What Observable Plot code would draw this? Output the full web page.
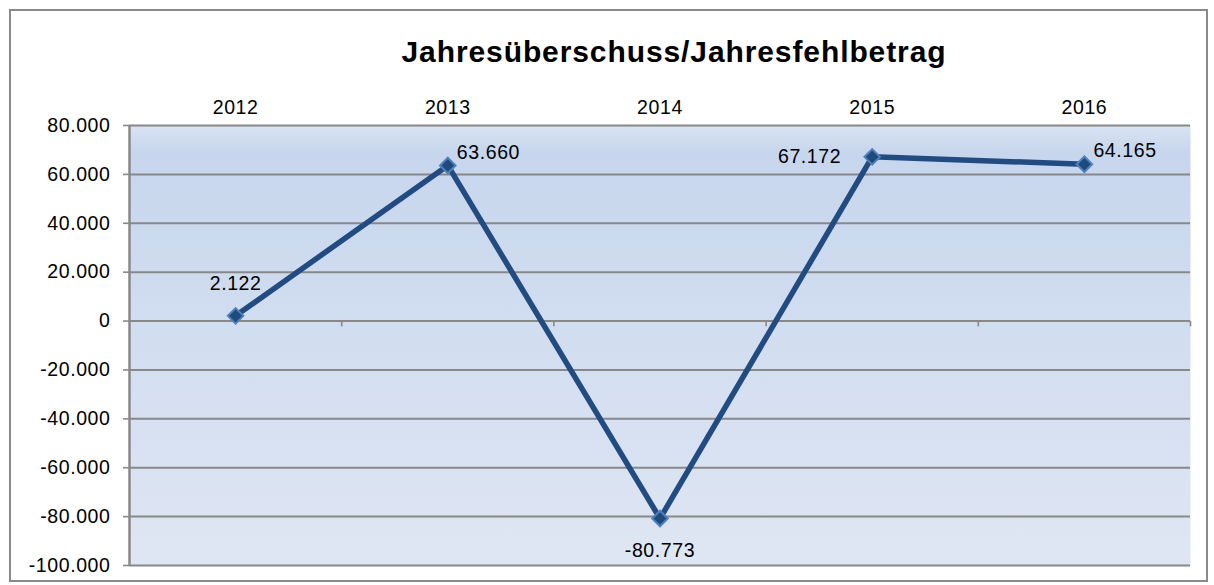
<!DOCTYPE html>
<html>
<head>
<meta charset="utf-8">
<script src="https://cdn.jsdelivr.net/npm/d3@7"></script>
<script src="https://cdn.jsdelivr.net/npm/@observablehq/plot@0.6"></script>
<style>
  html, body { margin: 0; padding: 0; background: #fff; }
  #wrap { position: relative; width: 1214px; height: 585px; overflow: hidden; font-family: "Liberation Sans", Arial, sans-serif; }
  #border { position: absolute; left: 9px; top: 9px; width: 1195px; height: 569px; border: 2px solid #8a8a8a; pointer-events: none; }
  #title { height: 80px; width: 1214px; box-sizing: border-box; padding-left: 134px; padding-top: 35px; text-align: center; font-weight: bold; font-size: 30px; line-height: 34px; letter-spacing: 0.9px; color: #000; }
  svg text { letter-spacing: 0.6px; }
</style>
</head>
<body>
<div id="wrap">
  <div id="title">Jahresüberschuss/Jahresfehlbetrag</div>
  <div id="chart"></div>
  <div id="border"></div>
</div>
<script>
// Data
const years = [2012, 2013, 2014, 2015, 2016];
const values = [2122, 63660, -80773, 67172, 64165];
const labelPos = ["above", "right-up", "below", "left", "right-up"];
const yTicks = [-100000, -80000, -60000, -40000, -20000, 0, 20000, 40000, 60000, 80000];

const data = years.map((y, i) => ({year: y, value: values[i], pos: labelPos[i]}));
const xDomain = [years[0] - 0.5, years[years.length - 1] + 0.5];
const boundaries = years.map(y => y + 0.5);

const de = d3.formatLocale({decimal: ",", thousands: ".", grouping: [3], currency: ["", " €"], minus: "-"});
const fmt = de.format(",");

const tickSymbol = {draw(ctx, size) { const l = Math.sqrt(size); ctx.moveTo(0, 0); ctx.lineTo(0, l); }};

const lineColor = "#224b82";
const fs = 19.5;

const labelStyle = {fill: "#000", fontSize: fs, text: d => fmt(d.value), x: "year", y: "value"};

const chart = Plot.plot({
  width: 1214,
  height: 505,
  marginTop: 45,
  marginBottom: 20,
  marginLeft: 129,
  marginRight: 24,
  style: {fontFamily: "'Liberation Sans', Arial, sans-serif", fontSize: fs + "px", background: "transparent", color: "#000"},
  x: {type: "linear", domain: xDomain, axis: null},
  y: {domain: [yTicks[0], yTicks[yTicks.length - 1]], axis: null},
  marks: [
    Plot.frame({fill: "url(#bgGrad)", stroke: "none"}),
    Plot.ruleY(yTicks, {stroke: "#888", strokeWidth: 2}),
    Plot.dot(boundaries, {x: d => d, y: () => 0, symbol: tickSymbol, r: 3, stroke: "#888", strokeWidth: 1.6, fill: "none"}),
    Plot.ruleX([xDomain[0]], {stroke: "#888", strokeWidth: 2.5}),
    Plot.axisY(yTicks, {ticks: yTicks, tickSize: 6, tickPadding: 13, tickFormat: fmt, stroke: "#888", strokeWidth: 1.6, fill: "#000", fontSize: fs, label: null}),
    Plot.text(years, {x: d => d, frameAnchor: "top", dy: -25, text: d => String(d), fill: "#000", fontSize: fs}),
    Plot.line(data, {x: "year", y: "value", stroke: lineColor, strokeWidth: 5.5, strokeLinejoin: "round"}),
    Plot.dot(data, {x: "year", y: "value", symbol: "diamond2", r: 7, fill: "#1f4a7e", stroke: "#4f81bd", strokeWidth: 2}),
    Plot.text(data.filter(d => d.pos === "above"), {...labelStyle, dy: -32, textAnchor: "middle"}),
    Plot.text(data.filter(d => d.pos === "below"), {...labelStyle, dy: 32, textAnchor: "middle"}),
    Plot.text(data.filter(d => d.pos === "left"), {...labelStyle, dx: -31, dy: 0, textAnchor: "end"}),
    Plot.text(data.filter(d => d.pos === "right-up"), {...labelStyle, dx: 9, dy: -13, textAnchor: "start"})
  ]
});

const defs = d3.select(chart).insert("defs", ":first-child");
const grad = defs.append("linearGradient").attr("id", "bgGrad").attr("x1", 0).attr("y1", 0).attr("x2", 0).attr("y2", 1);
grad.append("stop").attr("offset", "0%").attr("stop-color", "#d9e3f2");
grad.append("stop").attr("offset", "6%").attr("stop-color", "#c7d6ed");
grad.append("stop").attr("offset", "45%").attr("stop-color", "#d1ddf0");
grad.append("stop").attr("offset", "100%").attr("stop-color", "#dfe6f3");

document.getElementById("chart").appendChild(chart);
</script>
</body>
</html>
